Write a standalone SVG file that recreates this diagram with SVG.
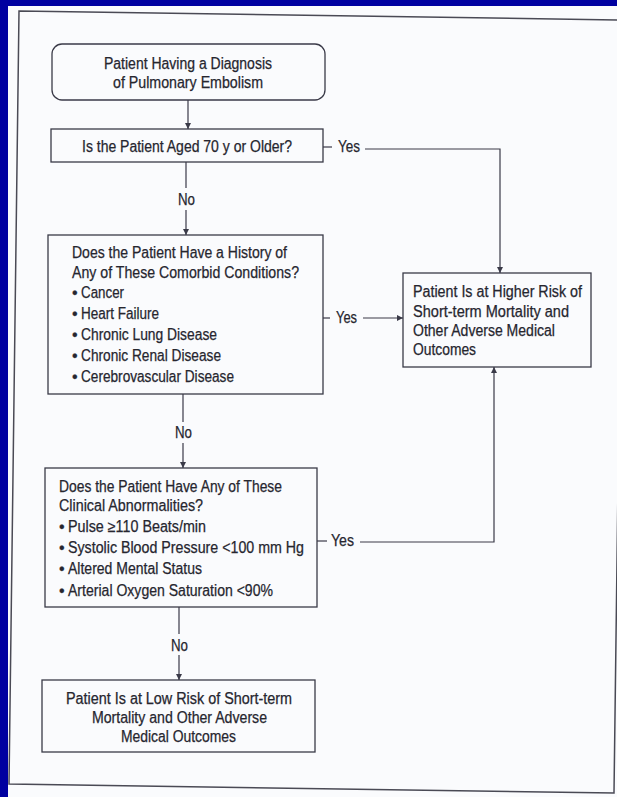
<svg xmlns="http://www.w3.org/2000/svg" width="617" height="797" viewBox="0 0 617 797">
<style>
  .box { fill: none; stroke: #3a3a48; stroke-width: 1.3; }
  .conn { fill: none; stroke: #3a3a48; stroke-width: 1.2; }
  text { font-family: "Liberation Sans", Arial, sans-serif; font-size: 16px; fill: #26262f; stroke: #26262f; stroke-width: 0.25; }
</style>
<defs>
  <marker id="arr" viewBox="0 0 10 10" refX="10" refY="5" markerWidth="6" markerHeight="6" markerUnits="userSpaceOnUse" orient="auto">
    <path d="M0,0 L10,5 L0,10 z" fill="#3a3a48"/>
  </marker>
</defs>
<rect x="0" y="0" width="617" height="797" fill="#0000a0"/>
<rect x="8" y="6" width="609" height="791" fill="#fafbfd"/>
<polygon points="19,11 624,20 614,793 9,784" fill="#fafbfd" stroke="#4a4a55" stroke-width="1.5"/>

<g id="connectors">
  <line class="conn" x1="188" y1="100" x2="188" y2="129" marker-end="url(#arr)"/>
  <line class="conn" x1="186" y1="162" x2="186" y2="188"/>
  <text x="178" y="205" textLength="17" lengthAdjust="spacingAndGlyphs">No</text>
  <line class="conn" x1="186" y1="210" x2="186" y2="235" marker-end="url(#arr)"/>
  <line class="conn" x1="323" y1="147" x2="332" y2="147"/>
  <text x="338" y="152" textLength="22" lengthAdjust="spacingAndGlyphs">Yes</text>
  <polyline class="conn" points="365,149 500,149 500,273" marker-end="url(#arr)"/>
  <line class="conn" x1="323" y1="318" x2="330" y2="318"/>
  <text x="336" y="323" textLength="21" lengthAdjust="spacingAndGlyphs">Yes</text>
  <line class="conn" x1="363" y1="318" x2="403" y2="318" marker-end="url(#arr)"/>
  <line class="conn" x1="183" y1="394" x2="183" y2="422"/>
  <text x="175" y="438" textLength="17" lengthAdjust="spacingAndGlyphs">No</text>
  <line class="conn" x1="183" y1="443" x2="183" y2="468" marker-end="url(#arr)"/>
  <line class="conn" x1="317" y1="541" x2="327" y2="541"/>
  <text x="331" y="546" textLength="23" lengthAdjust="spacingAndGlyphs">Yes</text>
  <polyline class="conn" points="360,542 494,542 494,367" marker-end="url(#arr)"/>
  <line class="conn" x1="179" y1="607" x2="179" y2="634"/>
  <text x="171" y="651" textLength="17" lengthAdjust="spacingAndGlyphs">No</text>
  <line class="conn" x1="179" y1="655" x2="179" y2="680" marker-end="url(#arr)"/>
</g>

<g id="start">
  <rect class="box" x="52" y="44" width="273" height="56" rx="10"/>
  <text x="104" y="69" textLength="168" lengthAdjust="spacingAndGlyphs">Patient Having a Diagnosis</text>
  <text x="113" y="88" textLength="150" lengthAdjust="spacingAndGlyphs">of Pulmonary Embolism</text>
</g>

<g id="age">
  <rect class="box" x="51" y="129" width="272" height="33"/>
  <text x="82" y="152" textLength="210" lengthAdjust="spacingAndGlyphs">Is the Patient Aged 70 y or Older?</text>
</g>

<g id="comorbid">
  <rect class="box" x="48" y="235" width="275" height="159"/>
  <text x="72" y="258" textLength="215" lengthAdjust="spacingAndGlyphs">Does the Patient Have a History of</text>
  <text x="72" y="278" textLength="227" lengthAdjust="spacingAndGlyphs">Any of These Comorbid Conditions?</text>
  <text x="72" y="298">•</text><text x="81" y="298" textLength="43" lengthAdjust="spacingAndGlyphs">Cancer</text>
  <text x="72" y="319">•</text><text x="81" y="319" textLength="78" lengthAdjust="spacingAndGlyphs">Heart Failure</text>
  <text x="72" y="340">•</text><text x="81" y="340" textLength="136" lengthAdjust="spacingAndGlyphs">Chronic Lung Disease</text>
  <text x="72" y="361">•</text><text x="81" y="361" textLength="140" lengthAdjust="spacingAndGlyphs">Chronic Renal Disease</text>
  <text x="72" y="382">•</text><text x="81" y="382" textLength="153" lengthAdjust="spacingAndGlyphs">Cerebrovascular Disease</text>
</g>

<g id="high-risk">
  <rect class="box" x="403" y="273" width="188" height="94"/>
  <text x="413" y="297" textLength="169" lengthAdjust="spacingAndGlyphs">Patient Is at Higher Risk of</text>
  <text x="413" y="317" textLength="156" lengthAdjust="spacingAndGlyphs">Short-term Mortality and</text>
  <text x="413" y="336" textLength="142" lengthAdjust="spacingAndGlyphs">Other Adverse Medical</text>
  <text x="413" y="355" textLength="63" lengthAdjust="spacingAndGlyphs">Outcomes</text>
</g>

<g id="clinical">
  <rect class="box" x="45" y="468" width="272" height="139"/>
  <text x="59" y="492" textLength="223" lengthAdjust="spacingAndGlyphs">Does the Patient Have Any of These</text>
  <text x="59" y="511" textLength="144" lengthAdjust="spacingAndGlyphs">Clinical Abnormalities?</text>
  <text x="59" y="532">•</text><text x="68" y="532" textLength="138" lengthAdjust="spacingAndGlyphs">Pulse ≥110 Beats/min</text>
  <text x="59" y="553">•</text><text x="68" y="553" textLength="236" lengthAdjust="spacingAndGlyphs">Systolic Blood Pressure &lt;100 mm Hg</text>
  <text x="59" y="574">•</text><text x="68" y="574" textLength="134" lengthAdjust="spacingAndGlyphs">Altered Mental Status</text>
  <text x="59" y="596">•</text><text x="68" y="596" textLength="205" lengthAdjust="spacingAndGlyphs">Arterial Oxygen Saturation &lt;90%</text>
</g>

<g id="low-risk">
  <rect class="box" x="42" y="680" width="273" height="72"/>
  <text x="66" y="704" textLength="226" lengthAdjust="spacingAndGlyphs">Patient Is at Low Risk of Short-term</text>
  <text x="92" y="723" textLength="175" lengthAdjust="spacingAndGlyphs">Mortality and Other Adverse</text>
  <text x="121" y="742" textLength="115" lengthAdjust="spacingAndGlyphs">Medical Outcomes</text>
</g>
</svg>
